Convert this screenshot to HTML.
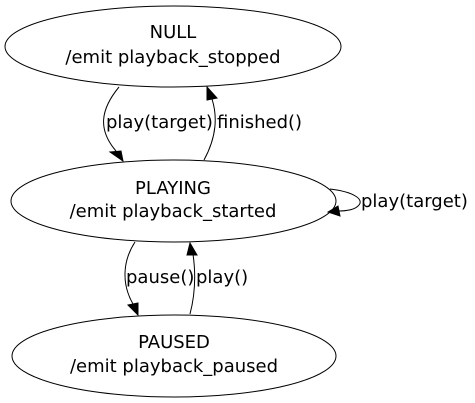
<!DOCTYPE html>
<html><head><meta charset="utf-8"><style>
html,body{margin:0;padding:0;background:#fff;width:475px;height:403px;overflow:hidden}
text{font-family:"DejaVu Sans","Liberation Sans",sans-serif;font-size:18px;fill:#000}
</style></head><body>
<svg width="475" height="403" viewBox="0 0 475 403" xmlns="http://www.w3.org/2000/svg">
<g fill="none" stroke="#000" stroke-width="1">
<ellipse cx="173" cy="46.5" rx="168" ry="40.5"/>
<ellipse cx="173.5" cy="201" rx="162.5" ry="41"/>
<ellipse cx="174" cy="356" rx="162" ry="41"/>
<path d="M119,87 C100,110 98,130 116,151"/>
<path d="M204,160 C216,138 218,118 212,99"/>
<path d="M330,189 C355,192 365,200 358,206 C354,210 346,211 338,211"/>
<path d="M135,242 C122,262 122,285 133,304"/>
<path d="M190,314 C195,295 196,275 193,254"/>
</g>
<g fill="#000" stroke="#000">
<polygon points="110,152 121,151 123,161"/>
<polygon points="207,87 217,98 207,100"/>
<polygon points="328,212 338,206 340,216"/>
<polygon points="128,305 138,303 138,315"/>
<polygon points="190,243 197,255 187,255"/>
</g>
<text x="173" y="38" text-anchor="middle">NULL</text>
<text x="173" y="63" text-anchor="middle">/emit playback_stopped</text>
<text x="173" y="194" text-anchor="middle">PLAYING</text>
<text x="173" y="217" text-anchor="middle">/emit playback_started</text>
<text x="174" y="348" text-anchor="middle">PAUSED</text>
<text x="174" y="372" text-anchor="middle">/emit playback_paused</text>
<text x="106" y="128">play(target)</text>
<text x="217" y="128">finished()</text>
<text x="361" y="207">play(target)</text>
<text x="126" y="283">pause()</text>
<text x="196" y="283">play()</text>
</svg>
</body></html>
